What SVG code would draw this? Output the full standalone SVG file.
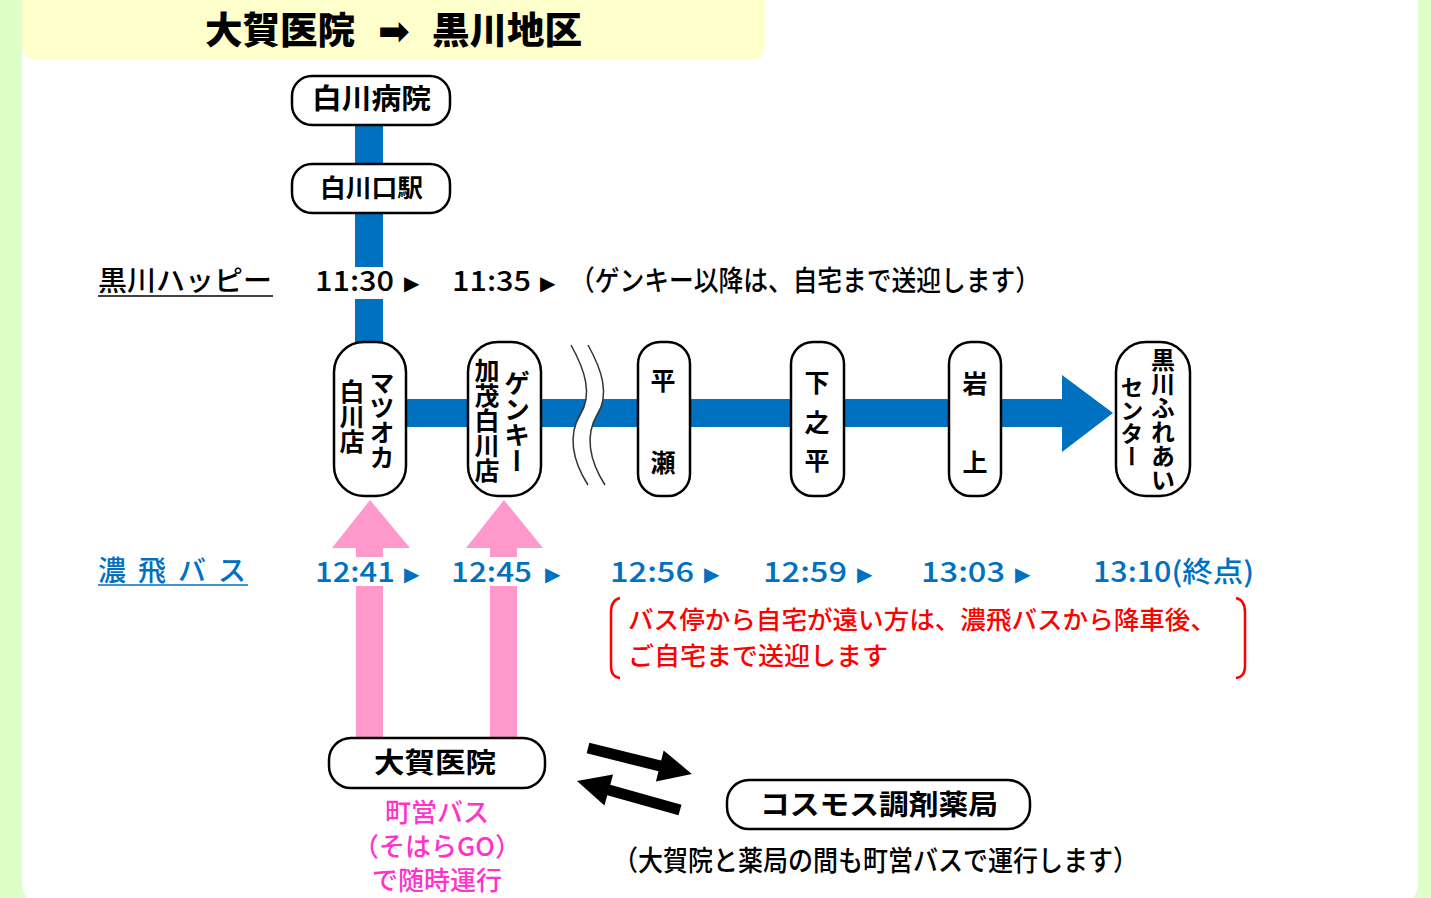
<svg xmlns="http://www.w3.org/2000/svg" width="1431" height="898" viewBox="0 0 1431 898">
<style>
.jp{font-family:"Noto Sans CJK JP","Noto Sans",sans-serif;}
.node{fill:#FFFFFF;stroke:#000000;stroke-width:2.5;}
.lbl{font-family:"Noto Sans CJK JP","Noto Sans",sans-serif;font-weight:700;fill:#000000;}
.vt{writing-mode:vertical-rl;text-anchor:middle;}
.blk{font-family:"Noto Sans CJK JP","Noto Sans",sans-serif;font-weight:500;fill:#000000;font-size:28px;}
.blu{font-family:"Noto Sans CJK JP","Noto Sans",sans-serif;font-weight:500;fill:#0070C0;font-size:28px;}
.tri{font-family:"DejaVu Sans",sans-serif;font-size:20px;}
.red{font-family:"Noto Sans CJK JP","Noto Sans",sans-serif;font-weight:500;fill:#FF0000;font-size:25px;}
.pnk{font-family:"Noto Sans CJK JP","Noto Sans",sans-serif;font-weight:500;fill:#FF33CC;font-size:26px;text-anchor:middle;}
.blueline{fill:#0070C0;}
.pink{fill:#FF99CC;}
</style>
<rect x="0" y="0" width="1431" height="898" fill="#DDFFC8"/>
<rect x="22" y="-30" width="1396" height="936" rx="22" fill="#FFFFFF"/>
<g id="header">
<rect x="22" y="-20" width="743" height="80" rx="14" fill="#FFFFCC"/>
<text class="jp" font-weight="900" font-size="37" y="44"><tspan x="205" textLength="150" lengthAdjust="spacingAndGlyphs">大賀医院</tspan><tspan x="378" font-size="38" font-family="DejaVu Sans, sans-serif">➡</tspan><tspan x="432" textLength="150" lengthAdjust="spacingAndGlyphs">黒川地区</tspan></text>
</g>
<g id="connectors">
<rect class="blueline" x="355" y="110" width="28" height="157"/>
<rect class="blueline" x="355" y="299" width="28" height="60"/>
<rect class="blueline" x="380" y="399" width="682" height="28"/>
<polygon class="blueline" points="1062,375 1113,413 1062,452"/>
<path d="M571,345 C585,370 593,395 580,415 C568,435 572,460 588,485 L605,485 C589,460 585,435 597,415 C610,395 602,370 588,345 Z" fill="#FFFFFF"/>
<path d="M571,345 C585,370 593,395 580,415 C568,435 572,460 588,485" fill="none" stroke="#333333" stroke-width="1.5"/>
<path d="M588,345 C602,370 610,395 597,415 C585,435 589,460 605,485" fill="none" stroke="#333333" stroke-width="1.5"/>
<polygon class="pink" points="370,500 410,548 332,548"/>
<rect class="pink" x="356" y="546" width="27" height="11"/>
<rect class="pink" x="356" y="586" width="27" height="154"/>
<polygon class="pink" points="504,500 543,548 466,548"/>
<rect class="pink" x="490" y="546" width="27" height="11"/>
<rect class="pink" x="490" y="586" width="27" height="154"/>
<polygon fill="#000000" transform="translate(588,748) rotate(14)" points="0,-5.5 74,-5.5 74,-16 107,0 74,16 74,5.5 0,5.5"/>
<polygon fill="#000000" transform="translate(680,810) rotate(195.7)" points="0,-5.5 74,-5.5 74,-16 107,0 74,16 74,5.5 0,5.5"/>
</g>
<g id="node-shirakawa-hospital">
<rect class="node" x="292" y="76" width="158" height="49" rx="20"/>
<text class="lbl" font-size="28" x="312" y="109" textLength="119" lengthAdjust="spacingAndGlyphs">白川病院</text>
</g>
<g id="node-shirakawaguchi-station">
<rect class="node" x="292" y="164" width="158" height="49" rx="20"/>
<text class="lbl" font-size="25" x="320" y="197" textLength="103" lengthAdjust="spacingAndGlyphs">白川口駅</text>
</g>
<g id="row-happy">
<text class="blk" x="98" y="291" textLength="174" lengthAdjust="spacingAndGlyphs">黒川ハッピー</text>
<line x1="98" y1="296" x2="273" y2="296" stroke="#000000" stroke-width="1.5"/>
<text class="blk" x="315" y="291" textLength="79" lengthAdjust="spacingAndGlyphs">11:30</text>
<text class="tri" x="404" y="290" fill="#000000">▶</text>
<text class="blk" x="452" y="291" textLength="79" lengthAdjust="spacingAndGlyphs">11:35</text>
<text class="tri" x="540" y="290" fill="#000000">▶</text>
<text class="blk" x="570" y="291" font-size="26" textLength="470" lengthAdjust="spacingAndGlyphs">（ゲンキー以降は、自宅まで送迎します）</text>
</g>
<g id="node-matsuoka">
<rect class="node" x="334" y="342" width="72" height="154" rx="30"/>
<text class="lbl vt" font-size="25" x="382" y="420">マツオカ</text>
<text class="lbl vt" font-size="25" x="352" y="416">白川店</text>
</g>
<g id="node-genky">
<rect class="node" x="468" y="342" width="73" height="154" rx="30"/>
<text class="lbl vt" font-size="26" x="517" y="422">ゲンキー</text>
<text class="lbl vt" font-size="25" x="487" y="420">加茂白川店</text>
</g>
<g id="node-hirase">
<rect class="node" x="638" y="342" width="52" height="154" rx="22"/>
<text class="lbl" font-size="25" text-anchor="middle"><tspan x="663" y="390">平</tspan><tspan x="663" y="472">瀬</tspan></text>
</g>
<g id="node-shimonohira">
<rect class="node" x="791" y="342" width="53" height="154" rx="22"/>
<text class="lbl" font-size="25" text-anchor="middle"><tspan x="817" y="392">下</tspan><tspan x="817" y="432">之</tspan><tspan x="817" y="470">平</tspan></text>
</g>
<g id="node-iwagami">
<rect class="node" x="949" y="342" width="52" height="154" rx="22"/>
<text class="lbl" font-size="25" text-anchor="middle"><tspan x="975" y="393">岩</tspan><tspan x="975" y="472">上</tspan></text>
</g>
<g id="node-fureai-center">
<rect class="node" x="1116" y="342" width="74" height="154" rx="30"/>
<text class="lbl vt" font-size="24" x="1163" y="420">黒川ふれあい</text>
<text class="lbl vt" font-size="23" x="1132" y="422">センター</text>
</g>
<g id="row-nohi">
<text class="blu" x="98" y="581" letter-spacing="12" font-size="28">濃飛バス</text>
<line x1="98" y1="585" x2="248" y2="585" stroke="#0070C0" stroke-width="1.5"/>
<text class="blu" x="315" y="582" textLength="80" lengthAdjust="spacingAndGlyphs">12:41</text>
<text class="tri" x="404" y="581" fill="#0070C0">▶</text>
<text class="blu" x="451" y="582" textLength="81" lengthAdjust="spacingAndGlyphs">12:45</text>
<text class="tri" x="545" y="581" fill="#0070C0">▶</text>
<text class="blu" x="610" y="582" textLength="84" lengthAdjust="spacingAndGlyphs">12:56</text>
<text class="tri" x="704" y="581" fill="#0070C0">▶</text>
<text class="blu" x="763" y="582" textLength="84" lengthAdjust="spacingAndGlyphs">12:59</text>
<text class="tri" x="857" y="581" fill="#0070C0">▶</text>
<text class="blu" x="921" y="582" textLength="84" lengthAdjust="spacingAndGlyphs">13:03</text>
<text class="tri" x="1015" y="581" fill="#0070C0">▶</text>
<text class="blu" x="1093" y="582" textLength="161" lengthAdjust="spacingAndGlyphs">13:10(終点)</text>
</g>
<g id="note-red">
<path d="M620,598 Q611,600 611,612 L611,666 Q611,677 620,678" fill="none" stroke="#FF0000" stroke-width="2.5"/>
<path d="M1236,598 Q1245,600 1245,612 L1245,666 Q1245,677 1236,678" fill="none" stroke="#FF0000" stroke-width="2.5"/>
<text class="red"><tspan x="628" y="629" textLength="588" lengthAdjust="spacingAndGlyphs">バス停から自宅が遠い方は、濃飛バスから降車後、</tspan><tspan x="628" y="665" textLength="260" lengthAdjust="spacingAndGlyphs">ご自宅まで送迎します</tspan></text>
</g>
<g id="node-oga-clinic">
<rect class="node" x="329" y="738" width="216" height="50" rx="22"/>
<text class="lbl" font-size="28" x="374" y="773" textLength="122" lengthAdjust="spacingAndGlyphs">大賀医院</text>
</g>
<g id="note-pink">
<text class="pnk"><tspan x="437" y="822">町営バス</tspan><tspan x="437" y="856">（そはらGO）</tspan><tspan x="437" y="890">で随時運行</tspan></text>
</g>
<g id="node-cosmos">
<rect class="node" x="727" y="780" width="303" height="49" rx="22"/>
<text class="lbl" font-size="28" x="760" y="815" textLength="238" lengthAdjust="spacingAndGlyphs">コスモス調剤薬局</text>
</g>
<g id="note-bottom">
<text class="blk" font-size="26" x="613" y="871" textLength="525" lengthAdjust="spacingAndGlyphs">（大賀院と薬局の間も町営バスで運行します）</text>
</g>
</svg>
